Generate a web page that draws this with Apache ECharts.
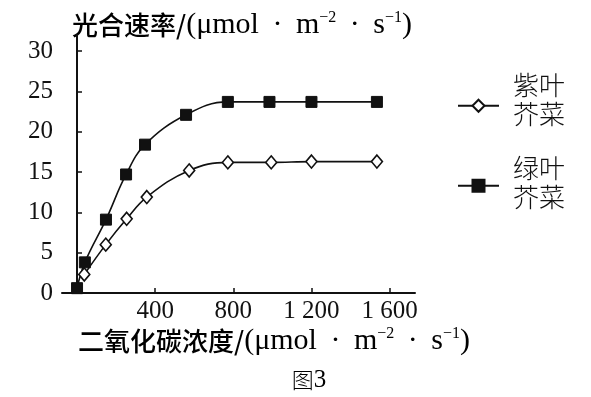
<!DOCTYPE html>
<html>
<head>
<meta charset="utf-8">
<title>图3</title>
<script src="https://cdn.jsdelivr.net/npm/echarts@6/dist/echarts.min.js"></script>
<style>
  html, body { margin: 0; padding: 0; background: #fff; }
  #chart { width: 591px; height: 397px; }
</style>
</head>
<body>
<div id="chart"></div>
<script>
// 绿叶芥菜
var co2Green = [0, 40, 148, 251, 348, 558, 772, 985, 1200, 1535];
var rateGreen = [0.6, 3.8, 9.1, 14.7, 18.4, 22.1, 23.7, 23.7, 23.7, 23.7];
// 紫叶芥菜
var co2Purple = [37, 147, 254, 357, 574, 772, 994, 1200, 1535];
var ratePurple = [2.3, 6.0, 9.2, 11.9, 15.2, 16.2, 16.2, 16.3, 16.3];

var xTicks = [400, 800, 1200, 1600];
var yTicks = [0, 5, 10, 15, 20, 25, 30];
var names = ["紫叶芥菜", "绿叶芥菜"];

var serif = "'Liberation Serif', 'Times New Roman', serif";
var cjk = "'Noto Sans CJK SC', sans-serif";
var ink = "#111";

function pairs(xs, ys) {
  var arr = [];
  for (var i = 0; i < xs.length; i++) {
    arr.push([xs[i], ys[i]]);
  }
  return arr;
}

// 轴名称里的上标
var nameRich = {
  a: { fontFamily: cjk, fontSize: 26, fontWeight: 500, color: ink },
  b: { fontFamily: serif, fontSize: 30, color: ink },
  s: { fontFamily: serif, fontSize: 16, color: ink, padding: [0, 0, 14, 0] }
};
var unit = "{b|(μmol \u2009·\u2009 m}{s|−2}{b| \u2009·\u2009 s}{s|−1}{b|)}";

// 图例文字分两行, 末尾空行把文字往上抬
function twoLines(n) {
  return "{t|" + n.slice(0, 2) + "}\n{t|" + n.slice(2) + "}\n{g| }";
}
function legendRich(gap) {
  return {
    t: { fontFamily: cjk, fontSize: 26, fontWeight: 300, lineHeight: 29.5, color: ink, padding: [0, 0, 0, 9] },
    g: { fontSize: 1, lineHeight: gap }
  };
}

var myChart = echarts.init(document.getElementById("chart"));
var option = {
  backgroundColor: "#fff",
  animation: false,
  grid: { left: 62, right: 176, top: 35, bottom: 104 },
  xAxis: {
    type: "value",
    min: -77,
    max: 1730,
    splitLine: { show: false },
    axisLine: { lineStyle: { color: ink, width: 2 } },
    axisTick: {
      inside: true,
      length: 5,
      customValues: xTicks,
      lineStyle: { color: ink, width: 1.5 }
    },
    axisLabel: {
      customValues: xTicks,
      margin: 6,
      color: ink,
      fontFamily: serif,
      fontSize: 25,
      formatter: function (v) {
        if (v >= 1000) {
          return Math.floor(v / 1000) + " " + String(v % 1000).padStart(3, "0");
        }
        return String(v);
      }
    }
  },
  yAxis: {
    type: "value",
    min: 0,
    max: 32,
    splitLine: { show: false },
    axisLine: { show: true, lineStyle: { color: ink, width: 2 } },
    axisTick: {
      show: true,
      inside: true,
      length: 5,
      customValues: yTicks,
      lineStyle: { color: ink, width: 1.5 }
    },
    axisLabel: {
      customValues: yTicks,
      margin: 9,
      color: ink,
      fontFamily: serif,
      fontSize: 25
    }
  },
  legend: [
    {
      data: [names[0]],
      left: 457,
      top: 72,
      padding: 0,
      itemWidth: 41,
      itemHeight: 15,
      formatter: twoLines,
      textStyle: { rich: legendRich(12) }
    },
    {
      data: [names[1]],
      left: 457,
      top: 155,
      padding: 0,
      itemWidth: 41,
      itemHeight: 15,
      formatter: twoLines,
      textStyle: { rich: legendRich(6) }
    }
  ],
  graphic: [
    {
      type: "text",
      x: 72,
      y: 25,
      style: {
        text: "{a|光合速率/}" + unit,
        rich: nameRich,
        verticalAlign: "middle"
      }
    },
    {
      type: "text",
      x: 78,
      y: 341,
      style: {
        text: "{a|二氧化碳浓度/}" + unit,
        rich: nameRich,
        verticalAlign: "middle"
      }
    },
    {
      type: "text",
      x: 309,
      y: 380,
      style: {
        text: "{c|图}{n|3}",
        rich: {
          c: { fontFamily: cjk, fontSize: 22, fontWeight: 300, color: ink },
          n: { fontFamily: serif, fontSize: 25, color: ink }
        },
        align: "center",
        verticalAlign: "middle"
      }
    }
  ],
  series: [
    {
      name: names[0],
      type: "line",
      smooth: 0.4,
      data: pairs(co2Purple, ratePurple),
      symbol: "diamond",
      symbolSize: [11, 13],
      lineStyle: { color: ink, width: 1.6 },
      itemStyle: { color: "#fff", borderColor: ink, borderWidth: 1.6 }
    },
    {
      name: names[1],
      type: "line",
      smooth: 0.4,
      data: pairs(co2Green, rateGreen),
      symbol: "rect",
      symbolSize: 11,
      lineStyle: { color: ink, width: 1.6 },
      itemStyle: { color: ink, borderColor: ink, borderWidth: 1 }
    }
  ]
};
myChart.setOption(option);
</script>
</body>
</html>
